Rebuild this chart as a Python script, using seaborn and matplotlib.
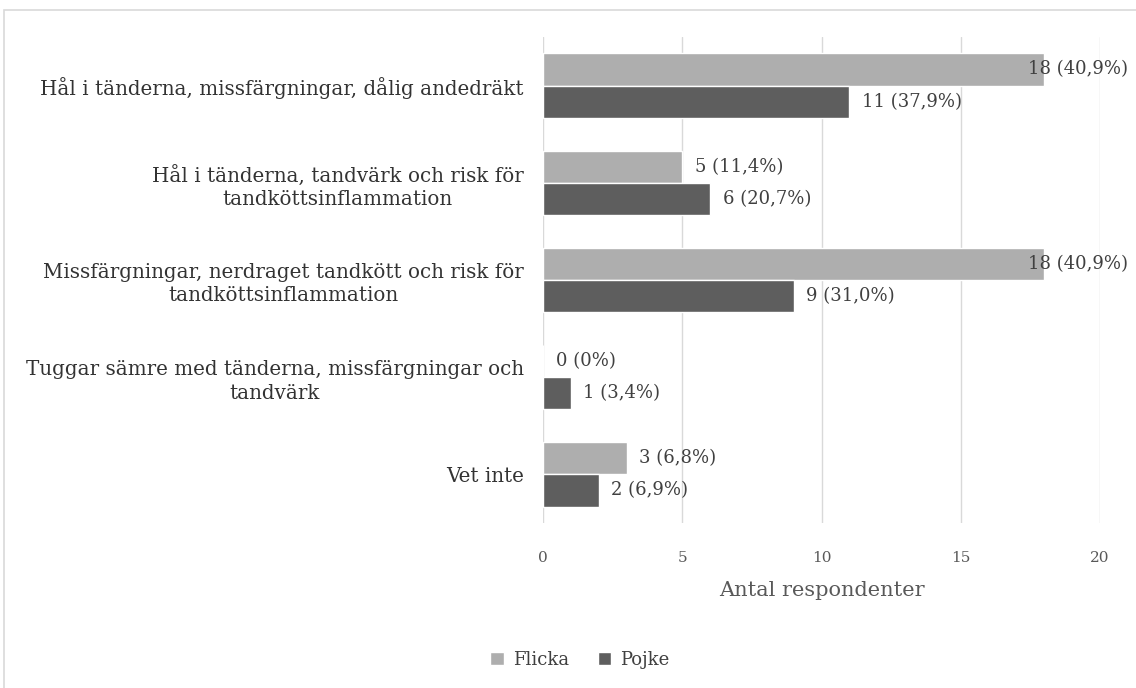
import matplotlib
matplotlib.use("Agg")
import matplotlib.pyplot as plt
from matplotlib.patches import Rectangle
import seaborn as sns
import pandas as pd

categories = [
    "Hål i tänderna, missfärgningar, dålig andedräkt",
    "Hål i tänderna, tandvärk och risk för\ntandköttsinflammation",
    "Missfärgningar, nerdraget tandkött och risk för\ntandköttsinflammation",
    "Tuggar sämre med tänderna, missfärgningar och\ntandvärk",
    "Vet inte",
]
flicka = [18, 5, 18, 0, 3]
pojke = [11, 6, 9, 1, 2]
flicka_pct = ["40,9%", "11,4%", "40,9%", "0%", "6,8%"]
pojke_pct = ["37,9%", "20,7%", "31,0%", "3,4%", "6,9%"]
groups = ["Flicka", "Pojke"]
colors = ["#AEAEAE", "#5E5E5E"]
xticks = [0, 5, 10, 15, 20]

df = pd.DataFrame({
    "kategori": categories * 2,
    "antal": flicka + pojke,
    "kön": [groups[0]] * len(categories) + [groups[1]] * len(categories),
    "etikett": [f"{v} ({p})" for v, p in zip(flicka, flicka_pct)]
             + [f"{v} ({p})" for v, p in zip(pojke, pojke_pct)],
})

sns.set_theme(style="white")
plt.rcParams["font.family"] = ["DejaVu Serif"]

W, H = 1136, 688
fig = plt.figure(figsize=(W / 100, H / 100), dpi=100)
ax = fig.add_axes([543 / W, 1 - 523 / H, 557 / W, 486 / H])

sns.barplot(data=df, y="kategori", x="antal", hue="kön", hue_order=groups,
            palette=colors, orient="h", width=0.664, saturation=1,
            ax=ax, legend=True)

# value labels after the bar ends
texts = []
for container, g in zip(ax.containers, groups):
    labels = df.loc[df["kön"] == g, "etikett"].tolist()
    texts += ax.bar_label(container, labels=labels, padding=9, fontsize=13,
                          color="#404040")

ax.set_xlim(0, 20)
ax.set_xticks(xticks)
ax.set_xticklabels([str(t) for t in xticks], fontsize=11, color="#595959")
ax.tick_params(axis="x", length=0, pad=20)
ax.tick_params(axis="y", length=0, pad=14)
for lbl in ax.get_yticklabels():
    lbl.set_fontsize(14.3)
    lbl.set_color("#333333")
    lbl.set_multialignment("center")
    lbl.set_linespacing(1.3)
ax.set_ylabel("")
ax.set_xlabel("Antal respondenter", fontsize=15, color="#595959", labelpad=12)
ax.xaxis.grid(True, color="#D9D9D9", linewidth=1)
ax.set_axisbelow(True)
for s in ax.spines.values():
    s.set_visible(False)

leg = ax.get_legend()
handles, lbls = ax.get_legend_handles_labels()
leg.remove()
fig.legend(handles, lbls, loc="center", bbox_to_anchor=(580 / W, 1 - 660 / H),
           ncol=2, frameon=False, fontsize=13, handlelength=0.75,
           handleheight=0.75, handletextpad=0.5, columnspacing=1.6,
           labelcolor="#404040")

# labels that would run off the right edge are pulled back inside
fig.canvas.draw()
renderer = fig.canvas.get_renderer()
limit = W - 8
for t in texts:
    bb = t.get_window_extent(renderer)
    if bb.x1 > limit:
        dx_pt = (bb.x1 - limit) * 72 / fig.dpi
        x0, y0 = t.xyann
        t.xyann = (x0 - dx_pt, y0)

# chart frame
fig.patches.append(Rectangle((4 / W, -0.05), 1.1, 1 - 10 / H + 0.05,
                             transform=fig.transFigure, fill=False,
                             edgecolor="#D9D9D9", linewidth=1.2))

fig.savefig("out.png", dpi=100)
